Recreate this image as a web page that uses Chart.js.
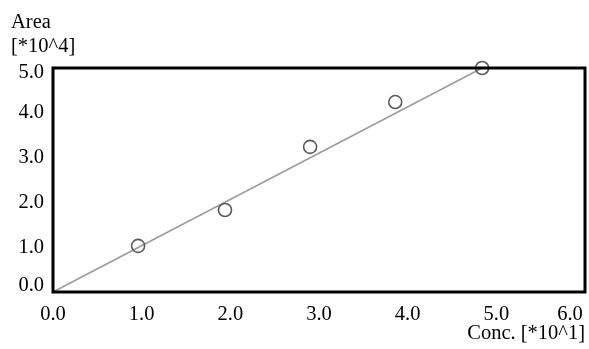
<!DOCTYPE html>
<html>
<head>
<meta charset="utf-8">
<script src="https://cdn.jsdelivr.net/npm/chart.js@4.4.1/dist/chart.umd.min.js"></script>
<style>
  html, body { margin: 0; padding: 0; background: #ffffff; }
  #wrap { width: 589px; height: 349px; position: relative; }
</style>
</head>
<body>
<div id="wrap"><canvas id="c" width="589" height="349"></canvas></div>
<script>
// Calibration samples: concentration [*10^1] vs peak area [*10^4]
const concValues = [0.96, 1.94, 2.90, 3.86, 4.84];
const areaValues = [1.03, 1.83, 3.24, 4.24, 5.0];

// Fitted calibration line end points
const fitConc = [0, 4.84];
const fitArea = [0, 5.0];

// Axis tick values
const xTickValues = [0, 1, 2, 3, 4, 5, 6];
const yTickValues = [0, 1, 2, 3, 4, 5];

const yUnitLines = ['Area', '[*10^4]'];
const xTitle = 'Conc. [*10^1]';

const FONT = { family: "'Liberation Serif', 'Times New Roman', serif", size: 20.5 };

// Keep the outermost tick labels inside the frame edges
const edgeLabelPlugin = {
  id: 'edgeLabels',
  beforeDraw(chart) {
    const sx = chart.scales.x, sy = chart.scales.y;
    if (sx._computeLabelItems) {
      const xi = sx._labelItems || (sx._labelItems = sx._computeLabelItems(chart.chartArea));
      const last = xi[xi.length - 1];
      if (last && last.options && last.options.translation) last.options.translation[0] -= 15;
    }
    if (sy._computeLabelItems) {
      const yi = sy._labelItems || (sy._labelItems = sy._computeLabelItems(chart.chartArea));
      if (yi[0] && yi[0].options && yi[0].options.translation) yi[0].options.translation[1] -= 6;
      const top = yi[yi.length - 1];
      if (top && top.options && top.options.translation) top.options.translation[1] += 5;
    }
  }
};

// Frame around the plot area plus the stacked y-axis caption
const framePlugin = {
  id: 'frame',
  afterDraw(chart) {
    const { ctx, chartArea: a } = chart;
    ctx.save();
    ctx.strokeStyle = '#000';
    ctx.lineWidth = 3;
    ctx.strokeRect(a.left, a.top, a.right - a.left, a.bottom - a.top);
    ctx.fillStyle = '#000';
    ctx.font = FONT.size + 'px ' + FONT.family;
    ctx.textAlign = 'left';
    ctx.textBaseline = 'alphabetic';
    ctx.fillText(yUnitLines[0], 11, 28);
    ctx.fillText(yUnitLines[1], 11, 52);
    ctx.restore();
  }
};

new Chart(document.getElementById('c'), {
  type: 'scatter',
  data: {
    datasets: [
      {
        label: 'fit',
        data: fitConc.map((x, i) => ({ x, y: fitArea[i] })),
        showLine: true,
        borderColor: '#9c9c9c',
        borderWidth: 1.6,
        pointRadius: 0,
        fill: false,
        order: 2
      },
      {
        label: 'samples',
        data: concValues.map((x, i) => ({ x, y: areaValues[i] })),
        pointStyle: 'circle',
        pointRadius: 6.5,
        pointBorderWidth: 1.6,
        pointBorderColor: '#5a5a5a',
        pointBackgroundColor: 'rgba(0,0,0,0)',
        clip: false,
        order: 1
      }
    ]
  },
  options: {
    responsive: false,
    animation: false,
    devicePixelRatio: 1,
    layout: { autoPadding: false, padding: { left: 12, right: 4, top: 68, bottom: 0 } },
    plugins: {
      legend: { display: false },
      tooltip: { enabled: false }
    },
    scales: {
      x: {
        type: 'linear',
        min: 0,
        max: 6,
        afterBuildTicks(scale) { scale.ticks = xTickValues.map(v => ({ value: v })); },
        afterFit(scale) {
          scale.height = 57;
          scale.paddingLeft = 0;
          scale.paddingRight = 0;
        },
        grid: { display: false, drawTicks: false },
        border: { display: false },
        ticks: {
          color: '#000',
          font: FONT,
          padding: 10,
          maxRotation: 0,
          callback: v => Number(v).toFixed(1)
        },
        title: {
          display: true,
          text: xTitle,
          align: 'end',
          color: '#000',
          font: FONT,
          padding: { top: 0, bottom: 3 }
        }
      },
      y: {
        type: 'linear',
        min: 0,
        max: 5,
        afterBuildTicks(scale) { scale.ticks = yTickValues.map(v => ({ value: v })); },
        afterFit(scale) {
          scale.width = 41;
          scale.paddingTop = 0;
          scale.paddingBottom = 0;
        },
        grid: { display: false, drawTicks: false },
        border: { display: false },
        ticks: {
          color: '#000',
          font: FONT,
          padding: 9,
          callback: v => Number(v).toFixed(1)
        }
      }
    }
  },
  plugins: [edgeLabelPlugin, framePlugin]
});
</script>
</body>
</html>
